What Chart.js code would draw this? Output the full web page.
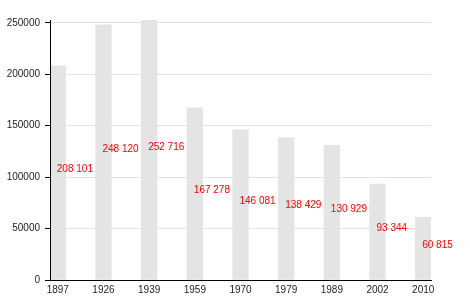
<!DOCTYPE html>
<html>
<head>
<meta charset="utf-8">
<script src="https://cdn.jsdelivr.net/npm/chart.js@4.4.1/dist/chart.umd.min.js"></script>
<style>
html,body{margin:0;padding:0;background:#fff;}
#wrap{width:470px;height:300px;}
</style>
</head>
<body>
<div id="wrap"><canvas id="c" width="470" height="300"></canvas></div>
<script>
const categories = ['1897','1926','1939','1959','1970','1979','1989','2002','2010'];
const population = [208101,248120,252716,167278,146081,138429,130929,93344,60815];
const yTicks = [0,50000,100000,150000,200000,250000];

const FONT = "'Liberation Sans', Arial, sans-serif";
const halfBar = 0.171;

const labelPlugin = {
  id: 'valueLabels',
  afterDatasetsDraw(chart) {
    const ctx = chart.ctx;
    const area = chart.chartArea;
    ctx.save();
    // axis lines on top of bars
    ctx.strokeStyle = '#000';
    ctx.lineWidth = 1;
    const ax = Math.round(area.left - 0.5) + 0.5;
    const ay = Math.round(area.bottom - 0.5) + 0.5;
    ctx.beginPath();
    ctx.moveTo(ax, area.top);
    ctx.lineTo(ax, ay + 0.5);
    ctx.moveTo(ax - 0.5, ay);
    ctx.lineTo(area.right, ay);
    ctx.stroke();
    const meta = chart.getDatasetMeta(0);
    ctx.font = '10px ' + FONT;
    ctx.fillStyle = '#ff0000';
    ctx.textAlign = 'left';
    ctx.textBaseline = 'middle';
    meta.data.forEach((bar, i) => {
      const v = population[i];
      const txt = v.toString().replace(/\B(?=(\d{3})+(?!\d))/g, ' ');
      ctx.fillText(txt, bar.x - 1, (bar.y + bar.base) / 2 - 3);
    });
    ctx.restore();
  }
};

new Chart(document.getElementById('c'), {
  type: 'bar',
  data: {
    datasets: [{
      data: population.map((v, i) => ({x: i, y: v})),
      backgroundColor: '#e4e4e4',
      borderWidth: 0,
      barThickness: 15.6
    }]
  },
  options: {
    responsive: false,
    animation: false,
    layout: {padding: {top: 20, right: 39, bottom: 0, left: 0}},
    plugins: {legend: {display: false}, tooltip: {enabled: false}},
    scales: {
      x: {
        type: 'linear',
        offset: false,
        min: -halfBar,
        max: categories.length - 1 + halfBar,
        afterBuildTicks(scale) { scale.ticks = categories.map((c, i) => ({value: i})); },
        afterFit(scale) { scale.height = 20; },
        grid: {color: 'rgba(0,0,0,0)', drawTicks: false, offset: false},
        border: {color: '#000', width: 1},
        ticks: {
          autoSkip: false, maxRotation: 0, padding: 4,
          color: '#222', font: {family: FONT, size: 10},
          callback: (v) => categories[Math.round(v)]
        }
      },
      y: {
        min: 0,
        max: Math.max(...population),
        afterBuildTicks(scale) { scale.ticks = yTicks.map(v => ({value: v})); },
        afterFit(scale) { scale.width = 50; },
        grid: {color: '#e3e3e3', drawTicks: true, tickLength: 5, tickColor: '#000', tickWidth: 1},
        border: {color: '#000', width: 1},
        ticks: {
          padding: 5, color: '#222', font: {family: FONT, size: 10},
          callback: (v) => String(v)
        }
      }
    }
  },
  plugins: [labelPlugin]
});
</script>
</body>
</html>
